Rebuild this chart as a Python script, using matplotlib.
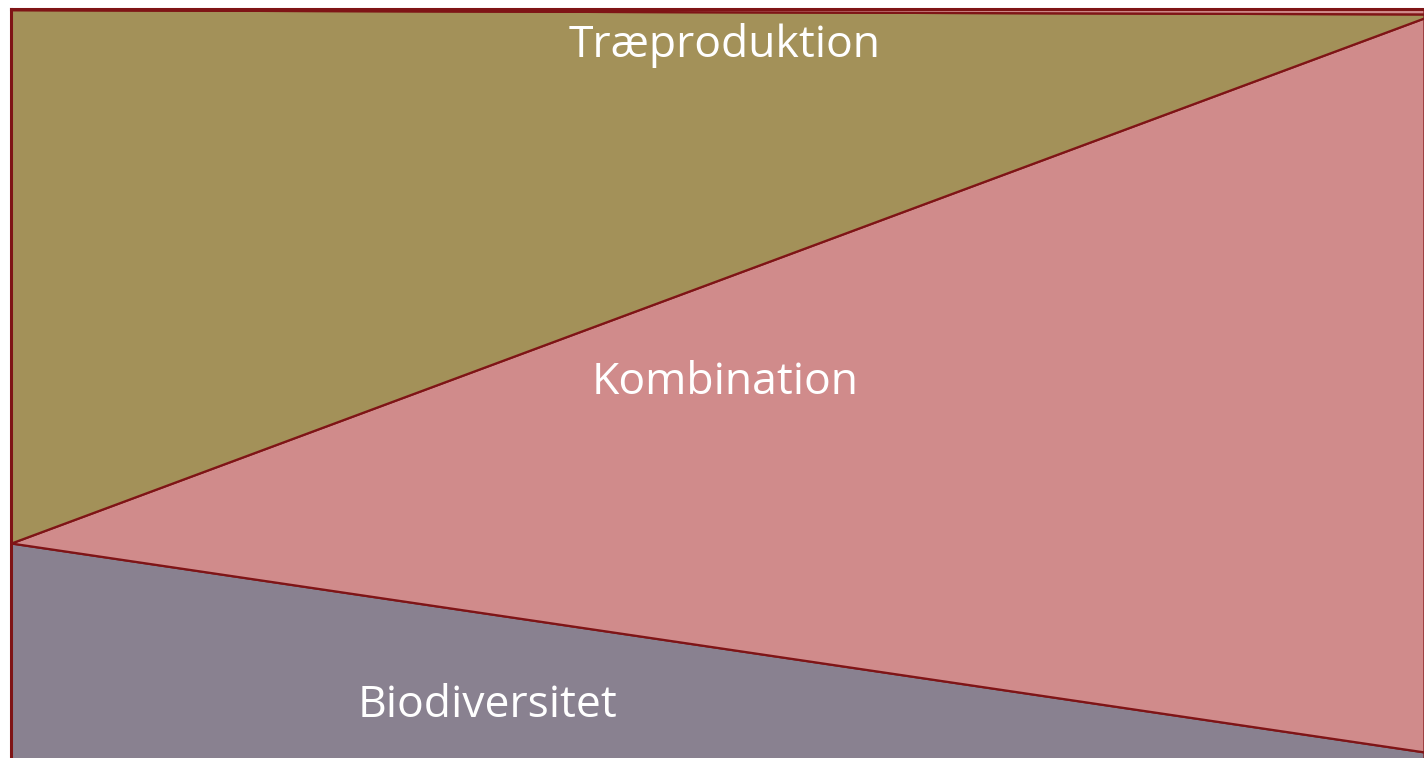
import matplotlib
matplotlib.use("Agg")
import matplotlib.pyplot as plt

x = [0, 1]
biodiversitet = [29.25, 1.6]
kombination = [0.0, 97.15]
traeproduktion = [70.6, 0.53]
rest = [0.15, 0.72]

labels = ["Biodiversitet", "Kombination", "Træproduktion"]
colors = ["#898190", "#D08B8B", "#A39159", "#D08B8B"]
edge = "#7F1416"

fig = plt.figure(figsize=(14.24, 7.58), dpi=100)
fig.patch.set_facecolor("white")
W, H = 1424, 758
zero_px = 764      # pixel row (from top) of value 0, just below the image
top_px = 8.5       # pixel row of value 100
pad = 14
ax = fig.add_axes([11 / W, -pad / H, (W - 11 + 8) / W, (H - top_px + pad) / H])

ax.stackplot(x, biodiversitet, kombination, traeproduktion, rest,
             colors=colors, edgecolor=edge, linewidth=1.6)
scale = (zero_px - top_px) / 100.0
ax.set_xlim(0, 1 + 8 / (W - 11))
ax.set_ylim(-(H + pad - zero_px) / scale, 100)
ax.set_xticks([])
ax.set_yticks([])
for side, s in ax.spines.items():
    s.set_color(edge)
    s.set_linewidth(2.2)
    if side in ("right", "bottom"):
        s.set_visible(False)

font = ["Open Sans", "DejaVu Sans"]
ax.text((725 - 11) / (W - 11), (zero_px - 45) / scale, labels[2], color="white",
        fontsize=32, family=font, ha="center", va="center")
ax.text((725 - 11) / (W - 11), (zero_px - 383) / scale, labels[1], color="white",
        fontsize=32, family=font, ha="center", va="center")
ax.text((488 - 11) / (W - 11), (zero_px - 706) / scale, labels[0], color="white",
        fontsize=32, family=font, ha="center", va="center")

fig.savefig("out.png", dpi=100)
